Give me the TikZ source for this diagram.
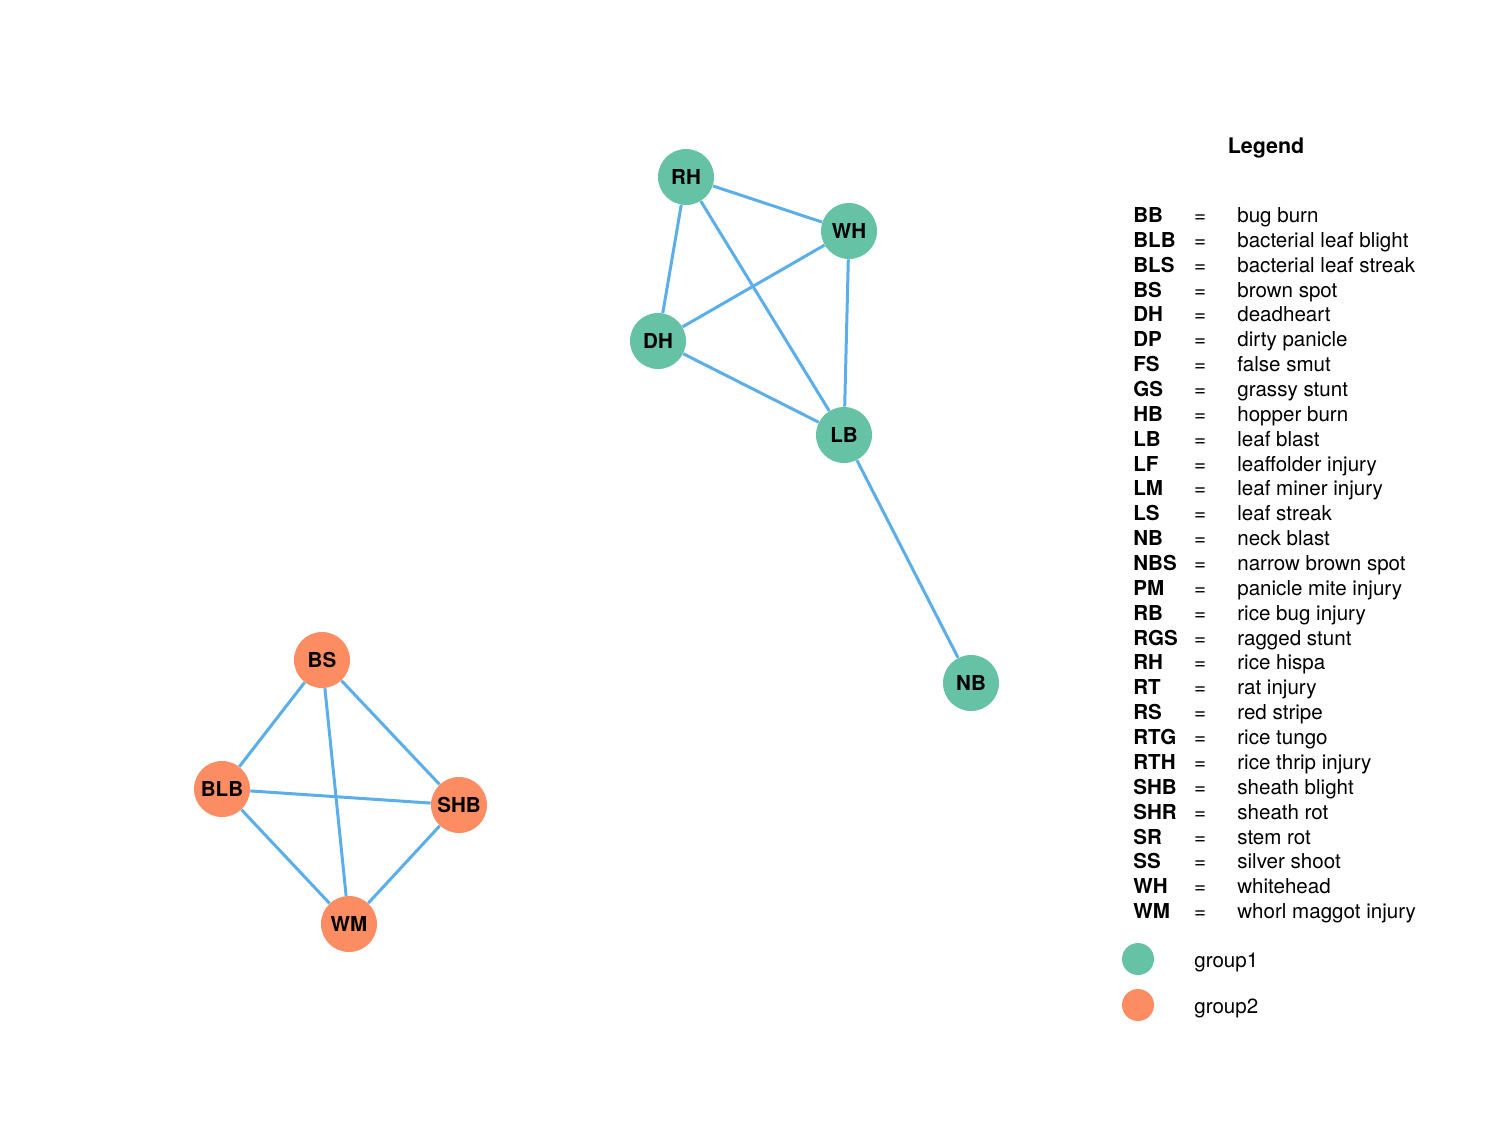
\documentclass[tikz,border=0pt]{standalone}
\usepackage{fontspec}
\setmainfont{TeX Gyre Heros}
\definecolor{grpone}{HTML}{66C2A5}
\definecolor{grptwo}{HTML}{FC8D62}
\definecolor{edgeblue}{HTML}{5AAEEA}

\begin{document}
\begin{tikzpicture}[x=0.2mm, y=-0.2mm,
    vert/.style={circle, minimum size=11.2mm, inner sep=0pt, font=\fontsize{11.7}{14}\selectfont\bfseries},
    one/.style={vert, fill=grpone},
    two/.style={vert, fill=grptwo},
    link/.style={edgeblue, line width=0.6mm},
    legtxt/.style={anchor=base west, inner sep=0pt, font=\fontsize{11.7}{14}\selectfont}]

\useasboundingbox (0,0) rectangle (1500,1125);

    % group 1
    \node[one] (RH) at (686,177) {RH};
    \node[one] (WH) at (849,231) {WH};
    \node[one] (DH) at (658,341) {DH};
    \node[one] (LB) at (844,435) {LB};
    \node[one] (NB) at (971,683) {NB};

    % group 2
    \node[two] (BS) at (322,660) {BS};
    \node[two] (BLB) at (222,789) {BLB};
    \node[two] (SHB) at (459,805) {SHB};
    \node[two] (WM) at (349,924) {WM};

\draw[link] (RH) -- (WH);
\draw[link] (RH) -- (DH);
\draw[link] (RH) -- (LB);
\draw[link] (WH) -- (DH);
\draw[link] (WH) -- (LB);
\draw[link] (DH) -- (LB);
\draw[link] (LB) -- (NB);

\draw[link] (BS) -- (BLB);
\draw[link] (BS) -- (SHB);
\draw[link] (BS) -- (WM);
\draw[link] (BLB) -- (SHB);
\draw[link] (BLB) -- (WM);
\draw[link] (SHB) -- (WM);

    % legend
    \node[anchor=base, inner sep=0pt, font=\fontsize{12.2}{14}\selectfont\bfseries] (legtitle) at (1266,153) {Legend};

\foreach \ab/\txt [count=\i from 0] in {BB/bug burn, BLB/bacterial leaf blight, BLS/bacterial leaf streak, BS/brown spot, DH/deadheart, DP/dirty panicle, FS/false smut, GS/grassy stunt, HB/hopper burn, LB/leaf blast, LF/leaffolder injury, LM/leaf miner injury, LS/leaf streak, NB/neck blast, NBS/narrow brown spot, PM/panicle mite injury, RB/rice bug injury, RGS/ragged stunt, RH/rice hispa, RT/rat injury, RS/red stripe, RTG/rice tungo, RTH/rice thrip injury, SHB/sheath blight, SHR/sheath rot, SR/stem rot, SS/silver shoot, WH/whitehead, WM/whorl maggot injury}
{
    \node[legtxt, font=\fontsize{11.7}{14}\selectfont\bfseries] (ab\i) at (1133, 222.5+24.86*\i) {\ab};
    \node[legtxt, anchor=base] (eq\i) at (1200, 222.5+24.86*\i) {=};
    \node[legtxt] (tx\i) at (1237, 222.5+24.86*\i) {\txt};
}

    \node[circle, fill=grpone, minimum size=6.4mm, inner sep=0pt] (dotone) at (1138,959) {};
    \node[circle, fill=grptwo, minimum size=6.4mm, inner sep=0pt] (dottwo) at (1138,1005) {};
    \node[legtxt] (labone) at (1194,967.5) {group1};
    \node[legtxt] (labtwo) at (1194,1013.5) {group2};

\end{tikzpicture}
\end{document}
